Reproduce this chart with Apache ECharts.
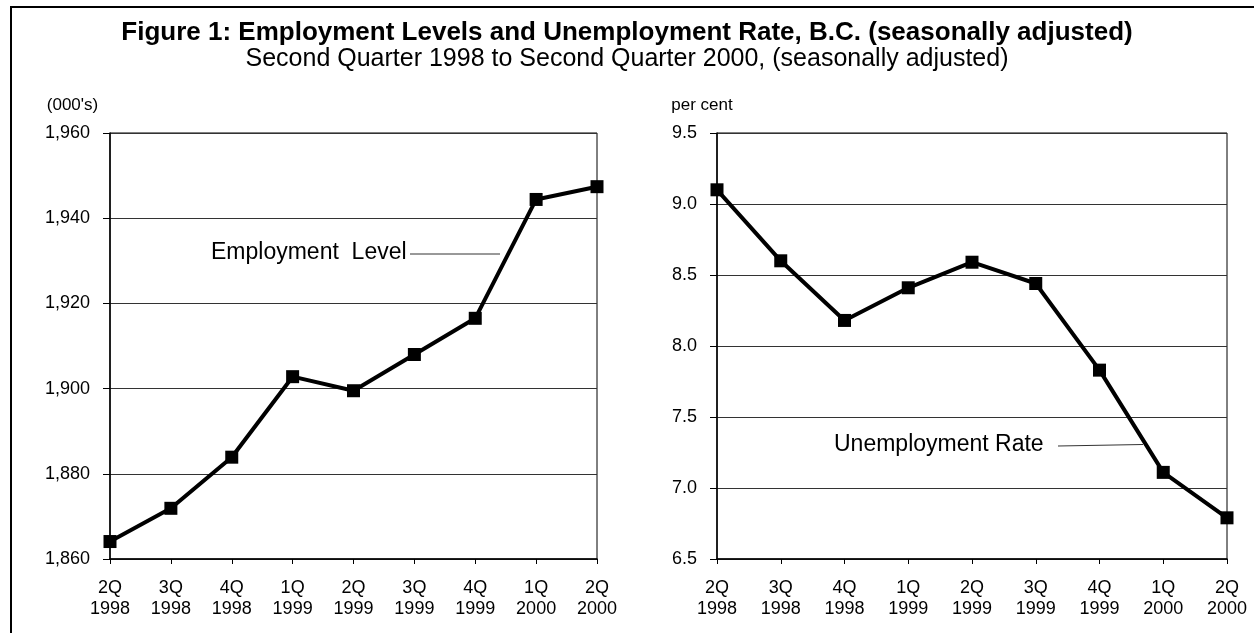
<!DOCTYPE html>
<html>
<head>
<meta charset="utf-8">
<script src="https://cdn.jsdelivr.net/npm/echarts@6/dist/echarts.min.js"></script>
<style>
html,body{margin:0;padding:0;background:#fff;}
#chart{width:1254px;height:633px;}
</style>
</head>
<body>
<div id="chart"></div>
<script>
// ---- data ----
var quarters = ['2Q','3Q','4Q','1Q','2Q','3Q','4Q','1Q','2Q'];
var years = ['1998','1998','1998','1999','1999','1999','1999','2000','2000'];
var employment = [1864.1, 1871.9, 1883.9, 1902.8, 1899.5, 1908.0, 1916.5, 1944.4, 1947.4];
var unemploymentRate = [9.10, 8.60, 8.18, 8.41, 8.59, 8.44, 7.83, 7.11, 6.79];
var empTicks = [1860, 1880, 1900, 1920, 1940, 1960];
var rateTicks = [6.5, 7.0, 7.5, 8.0, 8.5, 9.0, 9.5];

var categories = quarters.map(function(q, i){ return q + '\n' + years[i]; });
var FONT = "'Liberation Sans', Arial, sans-serif";

function xAxisCfg(gi){
  return {
    type:'category', gridIndex:gi, data:categories, boundaryGap:false,
    axisLine:{show:true, lineStyle:{color:'#000', width:1.5}},
    axisTick:{show:true, length:5, lineStyle:{color:'#000', width:1}},
    axisLabel:{color:'#000', fontFamily:FONT, fontSize:18, lineHeight:21, margin:19, interval:0},
    splitLine:{show:false}
  };
}
function yAxisCfg(gi, ticks, fmt, name, padRight){
  return {
    type:'value', gridIndex:gi,
    min:ticks[0], max:ticks[ticks.length-1], interval:ticks[1]-ticks[0],
    name:name, nameLocation:'end', nameGap:28,
    nameTextStyle:{color:'#000', fontFamily:FONT, fontSize:17, align:'center', verticalAlign:'middle', padding:[0,padRight,0,0]},
    axisLine:{show:true, lineStyle:{color:'#000', width:1.5}},
    axisTick:{show:true, length:7, lineStyle:{color:'#000', width:1}},
    axisLabel:{color:'#000', fontFamily:FONT, fontSize:18, margin:20, formatter:fmt},
    splitLine:{show:true, lineStyle:{color:'#333', width:1}}
  };
}
function lineSeries(gi, data){
  return {
    type:'line', xAxisIndex:gi, yAxisIndex:gi, data:data,
    symbol:'rect', symbolSize:13, showAllSymbol:true,
    itemStyle:{color:'#000'},
    lineStyle:{color:'#000', width:4},
    animation:false, z:5
  };
}

var chart = echarts.init(document.getElementById('chart'), null, {renderer:'canvas'});
chart.setOption({
  backgroundColor:'#fff',
  animation:false,
  title:[
    {text:'Figure 1: Employment Levels and Unemployment Rate, B.C. (seasonally adjusted)',
     left:'center', top:20, padding:0,
     textStyle:{fontFamily:FONT, fontSize:26, fontWeight:'bold', color:'#000'}},
    {text:'Second Quarter 1998 to Second Quarter 2000, (seasonally adjusted)',
     left:'center', top:47, padding:0,
     textStyle:{fontFamily:FONT, fontSize:25, fontWeight:'normal', color:'#000'}}
  ],
  grid:[
    {left:110, top:133, width:487, height:426, show:true, borderColor:'#000', borderWidth:1, backgroundColor:'transparent'},
    {left:717, top:133, width:510, height:426, show:true, borderColor:'#000', borderWidth:1, backgroundColor:'transparent'}
  ],
  xAxis:[xAxisCfg(0), xAxisCfg(1)],
  yAxis:[
    yAxisCfg(0, empTicks, function(v){ return v.toLocaleString('en-US'); }, "(000's)", 75),
    yAxisCfg(1, rateTicks, function(v){ return v.toFixed(1); }, 'per cent', 30)
  ],
  series:[lineSeries(0, employment), lineSeries(1, unemploymentRate)],
  graphic:[
    {type:'line', shape:{x1:11, y1:7, x2:1254, y2:7}, style:{stroke:'#000', lineWidth:2}, z:10},
    {type:'line', shape:{x1:11, y1:6, x2:11, y2:633}, style:{stroke:'#000', lineWidth:2}, z:10},
    {type:'text', left:211, top:241, style:{text:'Employment  Level', font:'23px ' + FONT, fill:'#000'}, z:10},
    {type:'line', shape:{x1:410, y1:254, x2:500, y2:254}, style:{stroke:'#333', lineWidth:1}, z:10},
    {type:'text', left:834, top:433, style:{text:'Unemployment Rate', font:'23px ' + FONT, fill:'#000'}, z:10},
    {type:'line', shape:{x1:1058, y1:446, x2:1143, y2:444.5}, style:{stroke:'#333', lineWidth:1}, z:10}
  ]
});
</script>
</body>
</html>
